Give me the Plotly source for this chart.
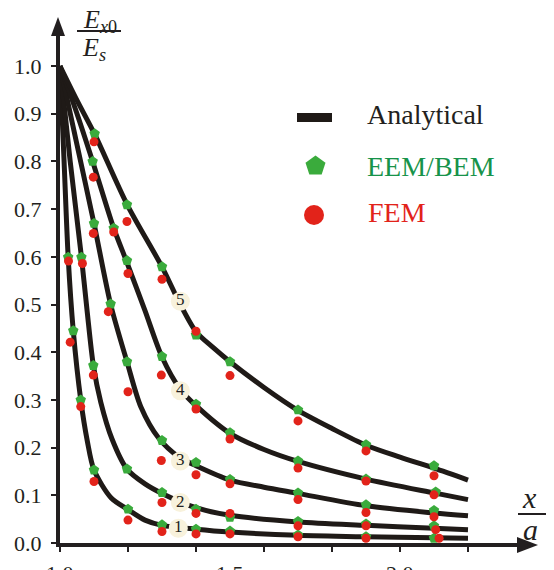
import plotly.graph_objects as go

# ---------------- data ----------------
# Analytical curves 1..5
ana_x1 = [1.0, 1.012, 1.024, 1.039, 1.061, 1.08, 1.1, 1.15, 1.2, 1.25, 1.3, 1.4, 1.5, 1.7, 1.9, 2.1, 2.2]
ana_y1 = [1.0, 0.80, 0.60, 0.445, 0.30, 0.215, 0.153, 0.095, 0.070, 0.048, 0.037, 0.029, 0.023, 0.016, 0.013, 0.011, 0.010]
ana_x2 = [1.0, 1.03, 1.063, 1.08, 1.098, 1.12, 1.153, 1.197, 1.25, 1.3, 1.4, 1.5, 1.7, 1.9, 2.1, 2.2]
ana_y2 = [1.0, 0.80, 0.60, 0.485, 0.373, 0.295, 0.218, 0.155, 0.124, 0.104, 0.074, 0.058, 0.044, 0.037, 0.031, 0.028]
ana_x3 = [1.0, 1.05, 1.10, 1.149, 1.197, 1.238, 1.29, 1.35, 1.4, 1.5, 1.6, 1.7, 1.9, 2.1, 2.2]
ana_y3 = [1.0, 0.835, 0.67, 0.50, 0.38, 0.285, 0.220, 0.18, 0.162, 0.132, 0.117, 0.104, 0.078, 0.063, 0.057]
ana_x4 = [1.0, 1.05, 1.096, 1.158, 1.197, 1.25, 1.30, 1.354, 1.4, 1.5, 1.6, 1.7, 1.9, 2.1, 2.2]
ana_y4 = [1.0, 0.90, 0.80, 0.66, 0.588, 0.487, 0.39, 0.322, 0.288, 0.23, 0.196, 0.171, 0.134, 0.105, 0.091]
ana_x5 = [1.0, 1.05, 1.102, 1.197, 1.30, 1.354, 1.4, 1.45, 1.5, 1.6, 1.7, 1.8, 1.9, 2.0, 2.1, 2.2]
ana_y5 = [1.0, 0.928, 0.857, 0.71, 0.579, 0.50, 0.443, 0.41, 0.38, 0.326, 0.278, 0.24, 0.205, 0.18, 0.157, 0.132]

# EEM/BEM points
eem_x1 = [1.024, 1.039, 1.061, 1.10, 1.20, 1.30, 1.40, 1.50, 1.70, 1.90, 2.10]
eem_y1 = [0.599, 0.445, 0.300, 0.153, 0.071, 0.038, 0.029, 0.025, 0.017, 0.013, 0.010]
eem_x2 = [1.063, 1.098, 1.197, 1.30, 1.40, 1.50, 1.70, 1.90, 2.10]
eem_y2 = [0.599, 0.372, 0.155, 0.106, 0.071, 0.054, 0.045, 0.040, 0.036]
eem_x3 = [1.10, 1.149, 1.197, 1.30, 1.40, 1.50, 1.70, 1.90, 2.10]
eem_y3 = [0.670, 0.501, 0.380, 0.215, 0.169, 0.133, 0.105, 0.080, 0.068]
eem_x4 = [1.096, 1.158, 1.197, 1.30, 1.40, 1.50, 1.70, 1.90, 2.105]
eem_y4 = [0.800, 0.660, 0.592, 0.391, 0.291, 0.231, 0.172, 0.134, 0.107]
eem_x5 = [1.102, 1.197, 1.30, 1.40, 1.50, 1.70, 1.90, 2.10]
eem_y5 = [0.858, 0.709, 0.579, 0.436, 0.380, 0.279, 0.206, 0.162]

# FEM points
fem_x1 = [1.025, 1.030, 1.061, 1.10, 1.20, 1.30, 1.40, 1.50, 1.70, 1.90, 2.115]
fem_y1 = [0.591, 0.421, 0.286, 0.129, 0.048, 0.024, 0.019, 0.019, 0.013, 0.010, 0.010]
fem_x2 = [1.066, 1.098, 1.30, 1.40, 1.50, 1.70, 1.90, 2.105]
fem_y2 = [0.586, 0.352, 0.085, 0.062, 0.062, 0.036, 0.036, 0.028]
fem_x3 = [1.098, 1.142, 1.20, 1.298, 1.40, 1.50, 1.70, 1.90, 2.10]
fem_y3 = [0.649, 0.485, 0.317, 0.173, 0.143, 0.124, 0.091, 0.064, 0.055]
fem_x4 = [1.098, 1.158, 1.20, 1.298, 1.40, 1.50, 1.70, 1.90, 2.10]
fem_y4 = [0.767, 0.652, 0.565, 0.352, 0.281, 0.218, 0.157, 0.130, 0.101]
fem_x5 = [1.10, 1.197, 1.30, 1.40, 1.50, 1.70, 1.90, 2.10]
fem_y5 = [0.841, 0.674, 0.553, 0.444, 0.351, 0.256, 0.193, 0.141]

# curve number labels
label_text = ["1", "2", "3", "4", "5"]
label_x = [1.348, 1.354, 1.354, 1.354, 1.354]
label_y = [0.031, 0.085, 0.172, 0.319, 0.507]

# axis ticks
y_ticks = [0.0, 0.1, 0.2, 0.3, 0.4, 0.5, 0.6, 0.7, 0.8, 0.9, 1.0]
x_ticks = [1.0, 1.2, 1.4, 1.6, 1.8, 2.0, 2.2]
x_tick_labels = ["1.0", "1.5", "2.0"]
x_tick_label_pos = [1.0, 1.5, 2.0]

# ---------------- styling ----------------
FONT = "Liberation Serif"
INK = "#231f20"
LINE = "#1f1a17"
GREEN = "#3aab3c"
GREEN_TXT = "#17934a"
RED = "#e2231a"

OFF = 8                      # page body margin of the html page
PAGE_W, PAGE_H = 554, 570
W, H = PAGE_W - OFF, PAGE_H - OFF
# plot area in page pixels
PX0, PX1, PY0, PY1 = 60, 520, 33, 543
L, R = PX0 - OFF, W - (PX1 - OFF)
T, B = PY0 - OFF, H - (PY1 - OFF)
PW, PH = PX1 - PX0, PY1 - PY0
XSCALE = 340.0   # px per unit
YSCALE = 477.0


def px(x):
    return (x - PX0) / PW


def py(y):
    return (PY1 - y) / PH


fig = go.Figure()

anas = [(ana_x1, ana_y1), (ana_x2, ana_y2), (ana_x3, ana_y3), (ana_x4, ana_y4), (ana_x5, ana_y5)]
for ax_, ay_ in anas:
    fig.add_trace(go.Scatter(x=ax_, y=ay_, mode="lines",
                             line=dict(color=LINE, width=5, shape="spline", smoothing=0.8),
                             showlegend=False, hoverinfo="skip"))

eems = [(eem_x1, eem_y1), (eem_x2, eem_y2), (eem_x3, eem_y3), (eem_x4, eem_y4), (eem_x5, eem_y5)]
for ex, ey in eems:
    fig.add_trace(go.Scatter(x=ex, y=ey, mode="markers",
                             marker=dict(symbol="pentagon", size=11, color=GREEN, line=dict(width=0)),
                             showlegend=False, cliponaxis=False))

fems = [(fem_x1, fem_y1), (fem_x2, fem_y2), (fem_x3, fem_y3), (fem_x4, fem_y4), (fem_x5, fem_y5)]
for fx, fy in fems:
    fig.add_trace(go.Scatter(x=fx, y=fy, mode="markers",
                             marker=dict(symbol="circle", size=9, color=RED, line=dict(width=0)),
                             showlegend=False, cliponaxis=False))

# curve number badges
fig.add_trace(go.Scatter(x=label_x, y=label_y, mode="markers+text", text=label_text,
                         textposition="middle center",
                         textfont=dict(family=FONT, size=17, color=INK),
                         marker=dict(symbol="circle", size=19, color="#f8f2dc", line=dict(width=0)),
                         showlegend=False, cliponaxis=False))

# ---- custom legend on an overlay pixel axis ----
fig.add_trace(go.Scatter(x=[297, 332], y=[117.5, 117.5], xaxis="x2", yaxis="y2", mode="lines",
                         line=dict(color=LINE, width=9), showlegend=False, hoverinfo="skip"))
fig.add_trace(go.Scatter(x=[315.5], y=[166], xaxis="x2", yaxis="y2", mode="markers",
                         marker=dict(symbol="pentagon", size=21, color=GREEN), showlegend=False))
fig.add_trace(go.Scatter(x=[314], y=[215], xaxis="x2", yaxis="y2", mode="markers",
                         marker=dict(symbol="circle", size=20, color=RED), showlegend=False))

annotations = [
    dict(x=365, y=114.5, xref="x2", yref="y2", text="Analytical", showarrow=False,
         xanchor="left", yanchor="middle", font=dict(family=FONT, size=28, color=INK)),
    dict(x=365, y=166, xref="x2", yref="y2", text="EEM/BEM", showarrow=False,
         xanchor="left", yanchor="middle", font=dict(family=FONT, size=28, color=GREEN_TXT)),
    dict(x=366, y=212.5, xref="x2", yref="y2", text="FEM", showarrow=False,
         xanchor="left", yanchor="middle", font=dict(family=FONT, size=28, color=RED)),
]

# x tick labels (partly cut at bottom as in the reference)
for lab, pos in zip(x_tick_labels, x_tick_label_pos):
    annotations.append(dict(x=pos, y=0, xref="x", yref="paper", yshift=-16, text=lab,
                            showarrow=False, xanchor="center", yanchor="top",
                            font=dict(family=FONT, size=22, color=INK)))

# axis titles (fractions)
annotations += [
    dict(x=px(100), y=py(21), xref="paper", yref="paper", text="<i>E</i><sub><i>x</i>0</sub>",
         showarrow=False, xanchor="center", yanchor="middle", font=dict(family=FONT, size=26, color=INK)),
    dict(x=px(94), y=py(49), xref="paper", yref="paper", text="<i>E</i><sub><i>s</i></sub>",
         showarrow=False, xanchor="center", yanchor="middle", font=dict(family=FONT, size=26, color=INK)),
    dict(x=px(529), y=py(497), xref="paper", yref="paper", text="<i>x</i>",
         showarrow=False, xanchor="center", yanchor="middle", font=dict(family=FONT, size=30, color=INK)),
    dict(x=px(530), y=py(529), xref="paper", yref="paper", text="<i>a</i>",
         showarrow=False, xanchor="center", yanchor="middle", font=dict(family=FONT, size=30, color=INK)),
]

shapes = [
    # fraction bars
    dict(type="line", xref="paper", yref="paper", x0=px(77), x1=px(121), y0=py(31), y1=py(31),
         line=dict(color=INK, width=2)),
    dict(type="line", xref="paper", yref="paper", x0=px(518), x1=px(546), y0=py(514), y1=py(514),
         line=dict(color=INK, width=2)),
    # x-axis arrow head
    dict(type="path", xref="paper", yref="paper",
         path=f"M {px(538)} {py(545)} L {px(517)} {py(537)} L {px(517)} {py(553)} Z",
         fillcolor=INK, line=dict(width=0)),
    # y-axis arrow head
    dict(type="path", xref="paper", yref="paper",
         path=f"M {px(58)} {py(17)} L {px(51)} {py(36)} L {px(65)} {py(36)} Z",
         fillcolor=INK, line=dict(width=0)),
]

fig.update_layout(
    template="none",
    width=W, height=H,
    margin=dict(l=L, r=R, t=T, b=B, pad=0, autoexpand=False),
    paper_bgcolor="white", plot_bgcolor="white",
    font=dict(family=FONT, color=INK),
    showlegend=False,
    annotations=annotations,
    shapes=shapes,
    xaxis=dict(range=[1.0, 1.0 + PW / XSCALE], tickvals=x_ticks, showticklabels=False,
               ticks="outside", ticklen=5, tickwidth=2, tickcolor=INK, automargin=False,
               showline=True, linewidth=4, linecolor=INK, showgrid=False, zeroline=False,
               fixedrange=True),
    yaxis=dict(range=[0.0, PH / YSCALE], tickvals=y_ticks, ticktext=[f"{v:.1f}" for v in y_ticks],
               ticks="outside", ticklen=5, tickwidth=2, tickcolor=INK, automargin=False,
               tickfont=dict(family=FONT, size=22, color=INK), ticklabelstandoff=5,
               showline=True, linewidth=4, linecolor=INK, showgrid=False, zeroline=False,
               fixedrange=True),
    xaxis2=dict(overlaying="x", range=[PX0, PX1], visible=False, fixedrange=True),
    yaxis2=dict(overlaying="y", range=[PY1, PY0], visible=False, fixedrange=True),
)

fig.write_html("out.html")
